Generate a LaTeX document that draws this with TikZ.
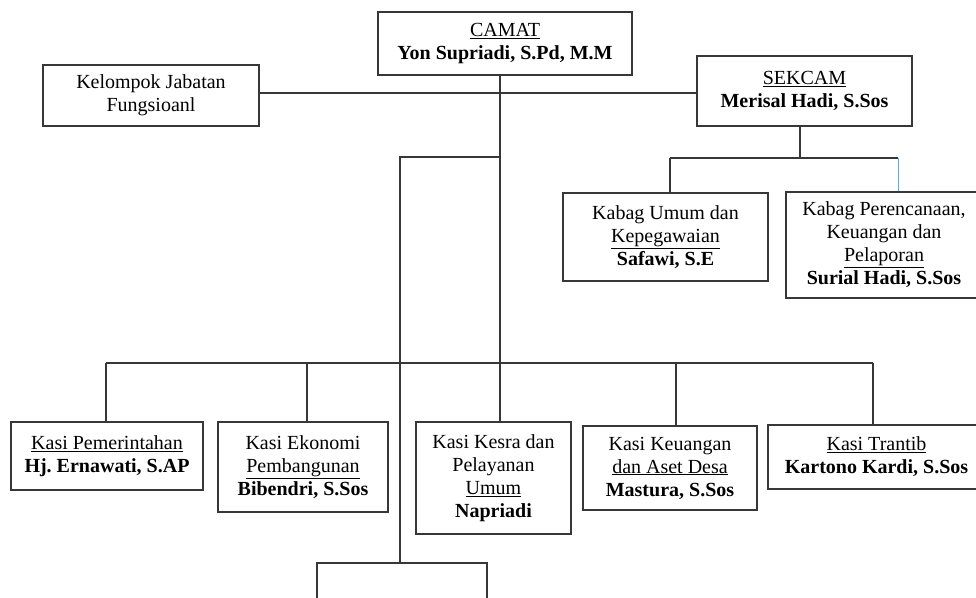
\documentclass[tikz,border=0pt]{standalone}
\usepackage{fontspec}
\setmainfont{Liberation Serif}
\frenchspacing
\definecolor{linegray}{RGB}{55,55,55}
\definecolor{lightblue}{RGB}{120,160,210}
\begin{document}
\begin{tikzpicture}[x=1pt,y=-1pt,
  orgbox/.style={draw=linegray, line width=1.3pt, inner sep=0pt, align=center,
    font=\fontsize{20}{23}\selectfont\frenchspacing},
  link/.style={draw=linegray, line width=1.3pt},
  bluelink/.style={draw=lightblue, line width=1pt}]
\useasboundingbox (0,0) rectangle (976,597);
\clip (0,0) rectangle (976,597);

% nodes
\node[orgbox, minimum width=254pt, minimum height=63pt] (camat) at (505,43.5)
  {\underline{CAMAT}\\\textbf{Yon Supriadi, S.Pd, M.M}};
\node[orgbox, minimum width=216pt, minimum height=61pt] (kel) at (151,95.5)
  {Kelompok Jabatan\\Fungsioanl};
\node[orgbox, minimum width=215pt, minimum height=70pt] (sek) at (804.5,91)
  {\underline{SEKCAM}\\\textbf{Merisal Hadi, S.Sos}};
\node[orgbox, minimum width=205pt, minimum height=88pt] (kumum) at (665.5,237)
  {Kabag Umum dan\\\underline{Kepegawaian}\\\textbf{Safawi, S.E}};
\node[orgbox, minimum width=196pt, minimum height=106pt] (kper) at (884,245)
  {Kabag Perencanaan,\\Keuangan dan\\\underline{Pelaporan}\\\textbf{Surial Hadi, S.Sos}};
\node[orgbox, minimum width=192pt, minimum height=68pt] (kpem) at (107,456)
  {\underline{Kasi Pemerintahan}\\\textbf{Hj. Ernawati, S.AP}};
\node[orgbox, minimum width=170pt, minimum height=90pt] (keko) at (303,467)
  {Kasi Ekonomi\\\underline{Pembangunan}\\\textbf{Bibendri, S.Sos}};
\node[orgbox, minimum width=155pt, minimum height=112pt] (kkes) at (493.5,478)
  {Kasi Kesra dan\\Pelayanan\\\underline{Umum}\\\textbf{Napriadi}};
\node[orgbox, minimum width=174pt, minimum height=84pt] (kkeu) at (670,468)
  {Kasi Keuangan\\\underline{dan Aset Desa}\\\textbf{Mastura, S.Sos}};
\node[orgbox, minimum width=217pt, minimum height=64pt] (ktr) at (876.5,457)
  {\underline{Kasi Trantib}\\\textbf{Kartono Kardi, S.Sos}};
\node[orgbox, minimum width=170pt, minimum height=74pt] (bot) at (402,600) {};

% junction coordinates
\coordinate (j1) at (500,93);
\coordinate (jb) at (500,157);
\coordinate (jb2) at (400,157);
\coordinate (bus) at (500,363);
\coordinate (tpem) at (106,363);
\coordinate (teko) at (307,363);
\coordinate (tkeu) at (676,363);
\coordinate (ttr) at (873,363);
\coordinate (sj) at (800,158);
\coordinate (sjl) at (670,158);
\coordinate (sjr) at (898,158);

% connectors
\draw[link] (kel.east |- j1) -- (sek.west |- j1);
\draw[link] (camat.south -| j1) -- (bus) -- (bus |- kkes.north);
\draw[link] (tpem) -- (ttr);
\draw[link] (tpem) -- (tpem |- kpem.north);
\draw[link] (teko) -- (teko |- keko.north);
\draw[link] (tkeu) -- (tkeu |- kkeu.north);
\draw[link] (ttr) -- (ttr |- ktr.north);
\draw[link] (jb) -- (jb2) -- (jb2 |- bot.north);
\draw[link] (sek.south -| sj) -- (sj);
\draw[link] (sjl) -- (sjr);
\draw[link] (sjl) -- (sjl |- kumum.north);
\draw[bluelink] (sjr) -- (sjr |- kper.north);
\end{tikzpicture}
\end{document}
